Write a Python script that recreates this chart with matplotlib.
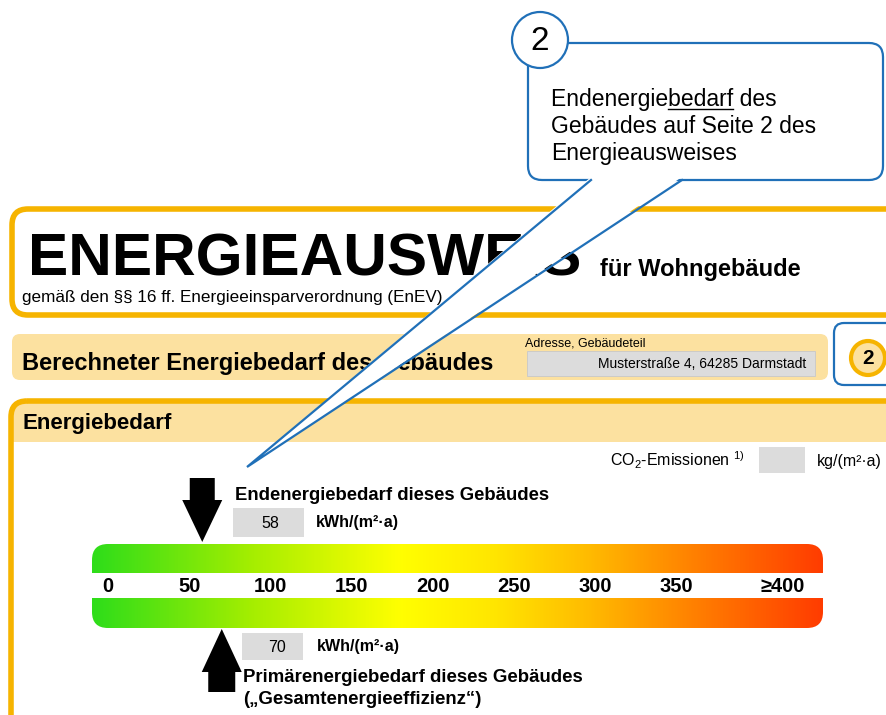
import numpy as np
import matplotlib.pyplot as plt
from matplotlib.patches import FancyBboxPatch, Rectangle, Circle, Polygon
from matplotlib.colors import LinearSegmentedColormap

plt.rcParams['font.family'] = ['Liberation Sans', 'DejaVu Sans']
plt.rcParams['mathtext.fontset'] = 'custom'
plt.rcParams['mathtext.rm'] = 'Liberation Sans'

# ---- data ----
endenergie = 58      # kWh/(m²·a)
primaerenergie = 70  # kWh/(m²·a)
scale_ticks = [0, 50, 100, 150, 200, 250, 300, 350]
scale_labels = ['0', '50', '100', '150', '200', '250', '300', '350']
last_label = '≥400'
bubble_lines = ['Endenergiebedarf des', 'Gebäudes auf Seite 2 des', 'Energieausweises']
address = 'Musterstraße 4, 64285 Darmstadt'

# ---- colours ----
ORANGE = '#F6B400'
LIGHT = '#FCE1A0'
GREY = '#DCDCDC'
BLUE = '#2070B8'

fig = plt.figure(figsize=(8.86, 7.15), dpi=100)
ax = fig.add_axes([0, 0, 1, 1])
ax.set_autoscale_on(False)
ax.set_xlim(0, 886)
ax.set_ylim(715, 0)
ax.axis('off')


def xv(v):
    # scale value -> pixel position on the bar
    return 108 + 1.625 * v


# ---- box 1: title ----
box1 = FancyBboxPatch((12, 209), 900, 106, boxstyle='round,pad=0,rounding_size=16',
                      fc='white', ec=ORANGE, lw=4, zorder=1)
ax.add_patch(box1)
ax.text(28, 276, 'ENERGIEAUSWEIS', fontsize=43.5, fontweight='bold', va='baseline', zorder=3)
ax.text(600, 276, 'für Wohngebäude', fontsize=17, fontweight='bold', va='baseline', zorder=3)
ax.text(22, 302, 'gemäß den §§ 16 ff. Energieeinsparverordnung (EnEV)', fontsize=12.3,
        va='baseline', zorder=3)

# ---- box 2 ----
ax.add_patch(FancyBboxPatch((12, 334), 816, 46, boxstyle='round,pad=0,rounding_size=8',
                            fc=LIGHT, ec='none', zorder=1))
ax.text(22, 370, 'Berechneter Energiebedarf des Gebäudes', fontsize=17, fontweight='bold',
        va='baseline', zorder=3)
ax.text(525, 346, 'Adresse, Gebäudeteil', fontsize=9, va='baseline', zorder=3)
ax.add_patch(Rectangle((527, 351), 288, 25, fc=GREY, ec='#C8C8C8', lw=0.6, zorder=2))
ax.text(806, 368, address, fontsize=10, ha='right', va='baseline', zorder=3)

# right hand marker "2"
ax.add_patch(FancyBboxPatch((834, 323), 70, 62, boxstyle='round,pad=0,rounding_size=10',
                            fc='white', ec=BLUE, lw=1.6, zorder=1))
ax.add_patch(Circle((868, 358), 17, fc=LIGHT, ec=ORANGE, lw=3, zorder=2))
ax.text(868, 359, '2', fontsize=15, fontweight='bold', ha='center', va='center', zorder=3)

# ---- box 3: Energiebedarf ----
box3 = FancyBboxPatch((11, 401), 900, 400, boxstyle='round,pad=0,rounding_size=16',
                      fc='white', ec='none', zorder=1)
ax.add_patch(box3)
header = Rectangle((11, 401), 900, 41, fc=LIGHT, ec='none', zorder=1.5)
ax.add_patch(header)
header.set_clip_path(box3)
ax.add_patch(FancyBboxPatch((11, 401), 900, 400, boxstyle='round,pad=0,rounding_size=16',
                            fc='none', ec=ORANGE, lw=4, zorder=2))
ax.text(23, 429, 'Energiebedarf', fontsize=16, fontweight='bold', va='baseline', zorder=3)

# CO2 row
ax.text(610, 466, 'CO$_2$-Emissionen $^{1)}$', fontsize=11.5, va='baseline', zorder=3)
ax.add_patch(Rectangle((759, 447), 46, 26, fc=GREY, ec='none', zorder=2))
ax.text(817, 466, 'kg/(m²·a)', fontsize=11.5, va='baseline', zorder=3)

# ---- colour scale ----
cmap = LinearSegmentedColormap.from_list('enev', [
    (0.0, '#2EDD1A'), (0.22, '#A6EE00'), (0.42, '#FFFF00'), (0.55, '#FFE600'),
    (0.68, '#FFBB00'), (0.84, '#FF7A00'), (1.0, '#FF3C00')])
bar_clip = FancyBboxPatch((92, 544), 731, 84, boxstyle='round,pad=0,rounding_size=16',
                          fc='none', ec='none')
ax.add_patch(bar_clip)
grad = np.linspace(0, 1, 512).reshape(1, -1)
im = ax.imshow(grad, cmap=cmap, aspect='auto', extent=[92, 823, 628, 544], zorder=2,
               interpolation='bilinear')
im.set_clip_path(bar_clip)
ax.add_patch(Rectangle((88, 573), 740, 25, fc='white', ec='none', zorder=2.5))
for v, lab in zip(scale_ticks, scale_labels):
    ax.text(xv(v), 586, lab, fontsize=14.5, fontweight='bold', ha='center', va='center', zorder=3)
ax.text(783, 586, last_label, fontsize=14.5, fontweight='bold', ha='center', va='center', zorder=3)

# ---- arrows ----
xa = xv(endenergie)
ax.add_patch(Polygon([(xa - 12.5, 478), (xa + 12.5, 478), (xa + 12.5, 500), (xa + 20, 500),
                      (xa, 542), (xa - 20, 500), (xa - 12.5, 500)], closed=True,
                     fc='black', ec='none', zorder=3))
xb = xv(primaerenergie)
ax.add_patch(Polygon([(xb, 629), (xb + 20, 672), (xb + 13.5, 672), (xb + 13.5, 692),
                      (xb - 13.5, 692), (xb - 13.5, 672), (xb - 20, 672)], closed=True,
                     fc='black', ec='none', zorder=3))

ax.text(235, 495, 'Endenergiebedarf dieses Gebäudes', fontsize=13.3, fontweight='bold',
        va='center', zorder=3)
ax.add_patch(Rectangle((233, 508), 71, 29, fc=GREY, ec='none', zorder=2))
ax.text(270, 523, str(endenergie), fontsize=11.5, ha='center', va='center', zorder=3)
ax.text(316, 523, 'kWh/(m²·a)', fontsize=11.5, fontweight='bold', va='center', zorder=3)

ax.add_patch(Rectangle((242, 633), 61, 27, fc=GREY, ec='none', zorder=2))
ax.text(277, 647, str(primaerenergie), fontsize=11.5, ha='center', va='center', zorder=3)
ax.text(317, 647, 'kWh/(m²·a)', fontsize=11.5, fontweight='bold', va='center', zorder=3)
ax.text(243, 678, 'Primärenergiebedarf dieses Gebäudes', fontsize=13.4, fontweight='bold',
        va='center', zorder=3)
ax.text(243, 700, '(„Gesamtenergieeffizienz“)', fontsize=13.4, fontweight='bold',
        va='center', zorder=3)

# ---- speech bubble ----
ax.add_patch(FancyBboxPatch((528, 43), 355, 137, boxstyle='round,pad=0,rounding_size=14',
                            fc='white', ec=BLUE, lw=1.6, zorder=6))
ax.add_patch(Circle((540, 40), 28, fc='white', ec=BLUE, lw=1.6, zorder=7))
ax.text(540, 41, '2', fontsize=24, ha='center', va='center', zorder=8)

tip = (247, 467)
ax.add_patch(Polygon([(591, 177), tip, (682, 177)], closed=True, fc='white', ec='none', zorder=9))
ax.plot([591, tip[0], 682], [180, tip[1], 180], color=BLUE, lw=1.6, zorder=10,
        solid_joinstyle='miter')

bx = 551
fs_b = 16.5
baselines = [106, 133, 160]
for s, yb in zip(bubble_lines, baselines):
    ax.text(bx, yb, s, fontsize=fs_b, va='baseline', zorder=8)

# underline "bedarf" in the first line
r = fig.canvas.get_renderer()
t1 = ax.text(bx, 0, 'Endenergie', fontsize=fs_b)
t2 = ax.text(bx, 0, 'Endenergiebedarf', fontsize=fs_b)
w1 = t1.get_window_extent(r).width
w2 = t2.get_window_extent(r).width
t1.remove()
t2.remove()
ax.plot([bx + w1, bx + w2], [baselines[0] + 3, baselines[0] + 3], color='black', lw=1.0, zorder=8)

fig.savefig('out.png', dpi=100)
